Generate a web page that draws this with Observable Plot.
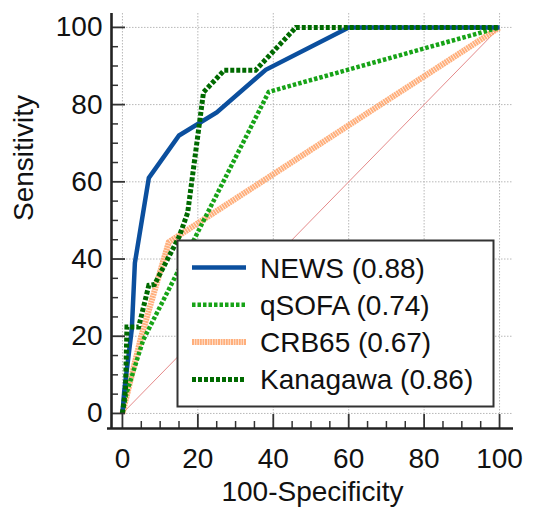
<!DOCTYPE html>
<html>
<head>
<meta charset="utf-8">
<script src="https://cdn.jsdelivr.net/npm/d3@7"></script>
<script src="https://cdn.jsdelivr.net/npm/@observablehq/plot@0.6"></script>
<style>
  html, body { margin: 0; padding: 0; background: #fff; }
  #chart { position: relative; width: 536px; height: 511px; }
  #legend { position: absolute; left: 0; top: 0; pointer-events: none; }
</style>
</head>
<body>
<div id="chart"></div>
<script>
// ---- data ----
const seriesNames = ["NEWS", "qSOFA", "CRB65", "Kanagawa"];
const aucLabels = ["NEWS (0.88)", "qSOFA (0.74)", "CRB65 (0.67)", "Kanagawa (0.86)"];

const newsX = [0, 0.5, 2.5, 3.3, 7, 15, 25, 38, 60, 100];
const newsY = [0, 6, 22, 39, 61, 72, 78, 89, 100, 100];

const qsofaX = [0, 1, 5.5, 38.8, 100];
const qsofaY = [0, 5, 19, 83.3, 100];

const crb65X = [0, 1, 5, 12.3, 100];
const crb65Y = [0, 4, 20, 44.4, 100];

const kanagawaX = [0, 0.8, 1.2, 4.3, 7, 8.5, 15, 17.3, 21.5, 27, 35.3, 46, 100];
const kanagawaY = [0, 6, 22.4, 22.4, 33.2, 33.4, 45.7, 52, 83.2, 88.9, 88.9, 100, 100];

const diagX = [0, 100];
const diagY = [0, 100];

const majorTicks = [0, 20, 40, 60, 80, 100];
const minorTicks = [5, 10, 15, 25, 30, 35, 45, 50, 55, 65, 70, 75, 85, 90, 95];

const xLabel = "100-Specificity";
const yLabel = "Sensitivity";

// ---- styles ----
const styles = {
  NEWS:     {stroke: "#0b4f9e", strokeWidth: 4.5},
  qSOFA:    {stroke: "#17a317", strokeWidth: 4.5, strokeDasharray: "3.5,2"},
  CRB65:    {stroke: "#ffa66e", strokeWidth: 6, strokeOpacity: 0.9, strokeDasharray: "2,0.6"},
  Kanagawa: {stroke: "#006a00", strokeWidth: 5, strokeDasharray: "4,2"}
};

const toRows = (xs, ys) => xs.map((x, i) => ({x, y: ys[i]}));
const data = {
  NEWS: toRows(newsX, newsY),
  qSOFA: toRows(qsofaX, qsofaY),
  CRB65: toRows(crb65X, crb65Y),
  Kanagawa: toRows(kanagawaX, kanagawaY)
};
const diag = toRows(diagX, diagY);

const W = 536, H = 511;
const mL = 111, mR = 23, mT = 13, mB = 83;
const pw = W - mL - mR, ph = H - mT - mB;
const xDom = [-2.9, 103.7], yDom = [-3.9, 103.6];
const font = "'Liberation Sans', Arial, Helvetica, sans-serif";
const lineOpts = {x: "x", y: "y", strokeLinecap: "butt", strokeLinejoin: "miter", strokeMiterlimit: 4};

const plot = Plot.plot({
  width: W, height: H,
  marginLeft: mL, marginRight: mR, marginTop: mT, marginBottom: mB,
  x: {domain: xDom},
  y: {domain: yDom},
  style: {fontFamily: font, fontSize: "28px", color: "#111", background: "#fff"},
  marks: [
    Plot.gridX(majorTicks, {stroke: "#b8b8b8", strokeOpacity: 1, strokeWidth: 1, strokeDasharray: "1.5,1.5"}),
    Plot.gridY(majorTicks, {stroke: "#b8b8b8", strokeOpacity: 1, strokeWidth: 1, strokeDasharray: "1.5,1.5"}),
    Plot.line(diag, {x: "x", y: "y", stroke: "#e58a8a", strokeWidth: 1}),
    Plot.line(data.CRB65, {...lineOpts, ...styles.CRB65}),
    Plot.line(data.qSOFA, {...lineOpts, ...styles.qSOFA}),
    Plot.line(data.NEWS, {...lineOpts, ...styles.NEWS}),
    Plot.line(data.Kanagawa, {...lineOpts, ...styles.Kanagawa}),
    // inward ticks
    Plot.tickY(majorTicks, {y: d => d, stroke: "#333", strokeWidth: 1.8, insetRight: pw - 14}),
    Plot.tickY(minorTicks, {y: d => d, stroke: "#333", strokeWidth: 1.5, insetRight: pw - 7}),
    Plot.tickX(majorTicks, {x: d => d, stroke: "#333", strokeWidth: 1.8, insetTop: ph - 14}),
    Plot.tickX(minorTicks, {x: d => d, stroke: "#333", strokeWidth: 1.5, insetTop: ph - 7}),
    // spines
    Plot.ruleX([xDom[0]], {stroke: "#222", strokeWidth: 2.6}),
    Plot.ruleY([yDom[0]], {stroke: "#222", strokeWidth: 2.6, insetLeft: -4}),
    Plot.axisY(majorTicks, {tickSize: 0, tickPadding: 9, label: null, fontSize: 28}),
    Plot.axisX(majorTicks, {tickSize: 0, tickPadding: 20, label: null, fontSize: 28}),
    Plot.text([xLabel], {frameAnchor: "bottom", dy: 72, fontSize: 28, fill: "#111"}),
    Plot.text([yLabel], {frameAnchor: "left", dx: -87, rotate: -90, fontSize: 28, fill: "#111"})
  ]
});

const chart = document.getElementById("chart");
chart.appendChild(plot);

// ---- legend overlay ----
const leg = d3.select(chart).append("svg")
  .attr("id", "legend").attr("width", W).attr("height", H);
leg.append("rect")
  .attr("x", 177.5).attr("y", 240.5).attr("width", 316).attr("height", 166)
  .attr("fill", "#fff").attr("stroke", "#333").attr("stroke-width", 2);
seriesNames.forEach((name, i) => {
  const cy = 267.5 + i * 37.3;
  const s = styles[name];
  leg.append("line")
    .attr("x1", 192).attr("x2", 246).attr("y1", cy).attr("y2", cy)
    .attr("stroke", s.stroke).attr("stroke-width", s.strokeWidth)
    .attr("stroke-opacity", s.strokeOpacity || 1)
    .attr("stroke-dasharray", s.strokeDasharray || null);
  leg.append("text")
    .attr("x", 260).attr("y", cy + 10)
    .attr("font-family", font).attr("font-size", 28).attr("fill", "#111")
    .text(aucLabels[i]);
});
</script>
</body>
</html>
